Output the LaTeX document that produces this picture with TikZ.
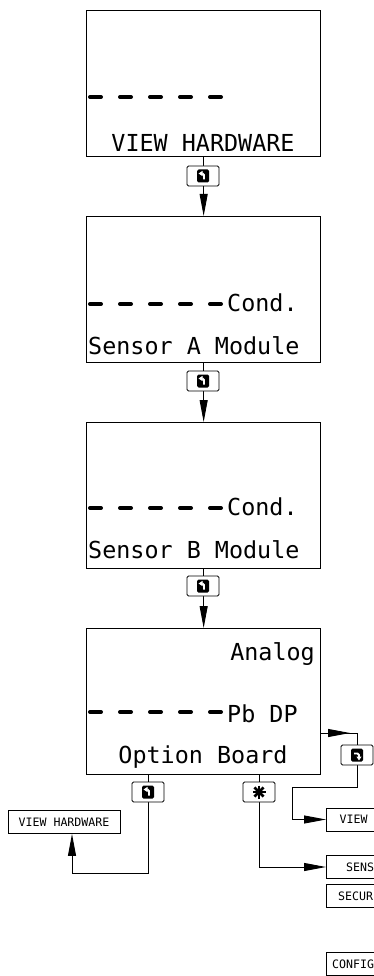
\documentclass[tikz,border=0pt]{standalone}
\usepackage{fontspec}
\setmonofont{DejaVu Sans Mono}
\usetikzlibrary{arrows.meta}

\newcommand{\entericon}{\tikz[x=1pt,y=1pt]{
    \fill[rounded corners=1.5pt] (0,0) rectangle (12,13);
    \draw[white,line width=1.8pt,-{Triangle[length=4pt,width=5pt]}] (7,3)--(7,9)--(1.5,9);
}}
\newcommand{\loopicon}{\tikz[x=1pt,y=1pt]{
    \fill[rounded corners=1.5pt] (0,0) rectangle (12,13);
    \draw[white,line width=1.8pt,-{Triangle[length=4pt,width=5pt]}] (3,8)--(8,8)--(8,1);
}}
\newcommand{\staricon}{\tikz[x=1pt,y=1pt]{
    \foreach \a in {0,45,90,135}{
        \draw[line width=2.6pt] (\a:6.5)--(\a+180:6.5);
    }
}}

\tikzset{
    lcd/.style={draw,line width=1.3pt,minimum width=234pt,minimum height=146pt,inner sep=0pt,anchor=north west},
    big/.style={font=\fontsize{23.4}{28}\selectfont\ttfamily,inner sep=0pt},
    small/.style={font=\fontsize{11.6}{14}\selectfont\ttfamily,inner sep=0pt},
    keybox/.style={draw,fill=white,line width=0.9pt,rounded corners=1.5pt,minimum width=32pt,minimum height=20pt,inner sep=0pt},
    menubox/.style={draw,line width=0.9pt,minimum width=112pt,minimum height=23pt,inner sep=0pt},
    wire/.style={line width=0.9pt},
    flow/.style={line width=0.9pt,-{Triangle[length=22pt,width=8pt]}},
    dashrow/.style={line width=4pt,dash pattern=on 11pt off 19pt,line cap=round}
}

\begin{document}
\begin{tikzpicture}[x=1pt,y=-1pt]
    \useasboundingbox (0,0) rectangle (374,976);
    \clip (0,0) rectangle (374,976);

    % displays
    \node[lcd] (hw) at (86,10) {};
    \node[lcd] (sa) at (86,216) {};
    \node[lcd] (sb) at (86,422) {};
    \node[lcd] (ob) at (86,628) {};

    \foreach \y in {97,304,508,712}{
        \draw[dashrow] (90,\y)--(221,\y);
    }
    \node[big,anchor=base] (hwtext) at (203,152) {VIEW HARDWARE};
    \node[big,anchor=base west] (satop) at (227,311) {Cond.};
    \node[big,anchor=base west] (satext) at (88,354) {Sensor A Module};
    \node[big,anchor=base west] (sbtop) at (227,515) {Cond.};
    \node[big,anchor=base west] (sbtext) at (88,558) {Sensor B Module};
    \node[big,anchor=base east] (obtop) at (315,660) {Analog};
    \node[big,anchor=base west] (obmid) at (227,722) {Pb DP};
    \node[big,anchor=base] (obtext) at (203,763) {Option Board};

    % menus
    \node[menubox,small] (vhw) at (64,822) {VIEW HARDWARE};
    \node[menubox,anchor=west] (rview) at (326,819.5) {};
    \node[menubox,anchor=west] (rsens) at (326,867) {};
    \node[menubox,anchor=west] (rsecur) at (326,896) {};
    \node[menubox,anchor=west] (rconfig) at (326,964) {};
    \node[small,anchor=west] (rviewtext) at (339.5,819.5) {VIEW};
    \node[small,anchor=west] (rsenstext) at (346,867) {SENS};
    \node[small,anchor=west] (rsecurtext) at (338,896) {SECUR};
    \node[small,anchor=west] (rconfigtext) at (332,964) {CONFIG};

    % arrows
    \draw[flow] (hw.south)--(sa.north);
    \draw[flow] (sa.south)--(sb.north);
    \draw[flow] (sb.south)--(ob.north);

    \coordinate (lx) at (72,873);
    \draw[flow] (148,774) |- (lx)--(lx |- vhw.south);
    \draw[flow] (259,774) |- (rsens.west);

    \coordinate (rt) at (357,733);
    \draw[wire] (ob.east |- rt)--(rt);
    \draw[flow] (ob.east |- rt)--(350,733);
    \draw[flow] (rt)--(357,787)--(292,787) |- (rview.west);

    % keys
    \node[keybox] (k1) at (203,176) {\entericon};
    \node[keybox] (k2) at (203,381) {\entericon};
    \node[keybox] (k3) at (203,586) {\entericon};
    \node[keybox] (kenter) at (148,792) {\entericon};
    \node[keybox] (kstar) at (259,792) {\staricon};
    \node[keybox] (kloop) at (357,755) {\loopicon};
\end{tikzpicture}
\end{document}
